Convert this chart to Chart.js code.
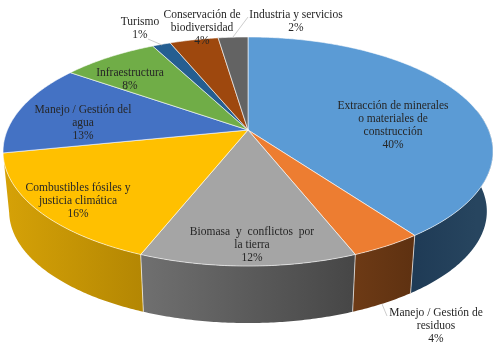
<!DOCTYPE html>
<html>
<head>
<meta charset="utf-8">
<title>Conflictos</title>
<script src="https://cdn.jsdelivr.net/npm/chart.js@4"></script>
<style>
    html, body { margin: 0; padding: 0; background: #fff; }
    canvas { display: block; }
</style>
</head>
<body>
<canvas id="grafica" width="500" height="353"></canvas>
<script>
// Datos de la gráfica
var categorias = [
    'Extracción de minerales o materiales de construcción',
    'Manejo / Gestión de residuos',
    'Biomasa y conflictos por la tierra',
    'Combustibles fósiles y justicia climática',
    'Manejo / Gestión del agua',
    'Infraestructura',
    'Turismo',
    'Conservación de biodiversidad',
    'Industria y servicios'
];
var valores = [40, 4, 12, 15.8, 12.95, 7.6, 1.45, 3.85, 2.35];
var colores = ['#5b9bd5', '#ed7d31', '#a5a5a5', '#ffc000', '#4472c4', '#70ad47', '#255e91', '#9e480e', '#636363'];
var coloresParedIzq = ['#1f3b56', '#6d3a15', '#707070', '#d6a207', '#2a4476', '#436829', '#163857', '#5f2b08', '#3b3b3b'];
var coloresParedDer = ['#27455f', '#5e3111', '#464646', '#b48703', '#2a4476', '#436829', '#163857', '#5f2b08', '#3b3b3b'];

// Renglones de cada etiqueta: texto, x del centro, y del primer renglón
var etiquetas = [
    { lineas: ['Extracción de minerales', 'o materiales de', 'construcción'], x: 393, y: 106 },
    { lineas: ['Manejo / Gestión de', 'residuos'], x: 436, y: 313 },
    { lineas: ['Biomasa y conflictos por', 'la tierra'], x: 252, y: 232, espacio: 3 },
    { lineas: ['Combustibles fósiles y', 'justicia climática'], x: 78, y: 188 },
    { lineas: ['Manejo / Gestión del', 'agua'], x: 83, y: 110 },
    { lineas: ['Infraestructura'], x: 130, y: 73 },
    { lineas: ['Turismo'], x: 140, y: 22 },
    { lineas: ['Conservación de', 'biodiversidad'], x: 202, y: 15 },
    { lineas: ['Industria y servicios'], x: 296, y: 15 }
];
var guias = [
    [382, 304, 387, 316],
    [148, 39, 162, 45],
    [248, 17, 233, 37]
];

// Perspectiva del disco: vértice, radios y grosor
var centroX = 248, centroY = 130;
var radioA = 240.6, radioB = 110.5, fuga = -0.1878;
var escalaBase = 0.975, grosor = 60.4;

// Proyecta un ángulo del pastel (0 = arriba, sentido horario) sobre el disco.
function proyectar(angulo, base) {
    var u = Math.sin(angulo), v = -Math.cos(angulo);
    var d = 1 + fuga * v;
    var x = radioA * u / d, y = radioB * v / d;
    if (base) {
        return { x: centroX + x * escalaBase, y: centroY + y * escalaBase + grosor };
    }
    return { x: centroX + x, y: centroY + y };
}

function trazarBorde(ctx, ini, fin, base, continuar) {
    var pasos = Math.max(2, Math.ceil(Math.abs(fin - ini) / 0.01));
    for (var i = 0; i <= pasos; i++) {
        var p = proyectar(ini + (fin - ini) * i / pasos, base);
        if (i === 0 && !continuar) ctx.moveTo(p.x, p.y); else ctx.lineTo(p.x, p.y);
    }
}

// Paredes laterales visibles, desde los arcos que calculó la librería.
function dibujarParedes(ctx, arcos) {
    var lim1 = Math.PI * 0.44, lim2 = Math.PI * 1.435;
    arcos.forEach(function (arco, i) {
        var ini = Math.max(arco.startAngle + Math.PI / 2, lim1);
        var fin = Math.min(arco.endAngle + Math.PI / 2, lim2);
        if (fin <= ini) return;
        var a = proyectar(ini, false), b = proyectar(fin, false);
        var grad = ctx.createLinearGradient(Math.min(a.x, b.x), 0, Math.max(a.x, b.x), 0);
        grad.addColorStop(0, coloresParedIzq[i]);
        grad.addColorStop(1, coloresParedDer[i]);
        ctx.beginPath();
        trazarBorde(ctx, ini, fin, false, false);
        trazarBorde(ctx, fin, ini, true, true);
        ctx.closePath();
        ctx.fillStyle = grad;
        ctx.fill();
        // Línea clara entre paredes
        ctx.beginPath();
        if (ini > lim1) {
            var p = proyectar(ini, false), q = proyectar(ini, true);
            ctx.moveTo(p.x, p.y);
            ctx.lineTo(q.x, q.y);
        }
        ctx.strokeStyle = 'rgba(255,255,255,0.65)';
        ctx.lineWidth = 1;
        ctx.stroke();
    });
}

function dibujarTapa(ctx, arcos) {
    arcos.forEach(function (arco, i) {
        ctx.beginPath();
        ctx.moveTo(centroX, centroY);
        trazarBorde(ctx, arco.startAngle + Math.PI / 2, arco.endAngle + Math.PI / 2, false, true);
        ctx.closePath();
        ctx.fillStyle = colores[i];
        ctx.fill();
        ctx.strokeStyle = 'rgba(255,255,255,0.75)';
        ctx.lineWidth = 0.8;
        ctx.stroke();
    });
}

function dibujarEtiquetas(ctx) {
    ctx.strokeStyle = '#bfbfbf';
    ctx.lineWidth = 0.8;
    guias.forEach(function (g) {
        ctx.beginPath();
        ctx.moveTo(g[0], g[1]);
        ctx.lineTo(g[2], g[3]);
        ctx.stroke();
    });
    ctx.font = '11.5px "Liberation Serif"';
    ctx.fillStyle = '#262626';
    ctx.textAlign = 'center';
    ctx.textBaseline = 'middle';
    etiquetas.forEach(function (e, i) {
        e.lineas.forEach(function (linea, n) {
            ctx.wordSpacing = (n === 0 && e.espacio ? e.espacio : 0) + 'px';
            ctx.fillText(linea, e.x, e.y + n * 13);
        });
        ctx.wordSpacing = '0px';
        ctx.fillText(Math.round(valores[i]) + '%', e.x, e.y + e.lineas.length * 13);
    });
}

// Sustituye el dibujo plano del pastel por el disco en perspectiva.
var pastel3d = {
    id: 'pastel3d',
    beforeDatasetsDraw: function (chart) {
        var ctx = chart.ctx;
        var arcos = chart.getDatasetMeta(0).data;
        ctx.save();
        dibujarParedes(ctx, arcos);
        dibujarTapa(ctx, arcos);
        dibujarEtiquetas(ctx);
        ctx.restore();
        return false;
    }
};

new Chart(document.getElementById('grafica').getContext('2d'), {
    type: 'pie',
    data: {
        labels: categorias,
        datasets: [{ data: valores, backgroundColor: colores }]
    },
    options: {
        responsive: false,
        animation: false,
        plugins: { legend: { display: false }, tooltip: { enabled: false } }
    },
    plugins: [pastel3d]
});
</script>
</body>
</html>
